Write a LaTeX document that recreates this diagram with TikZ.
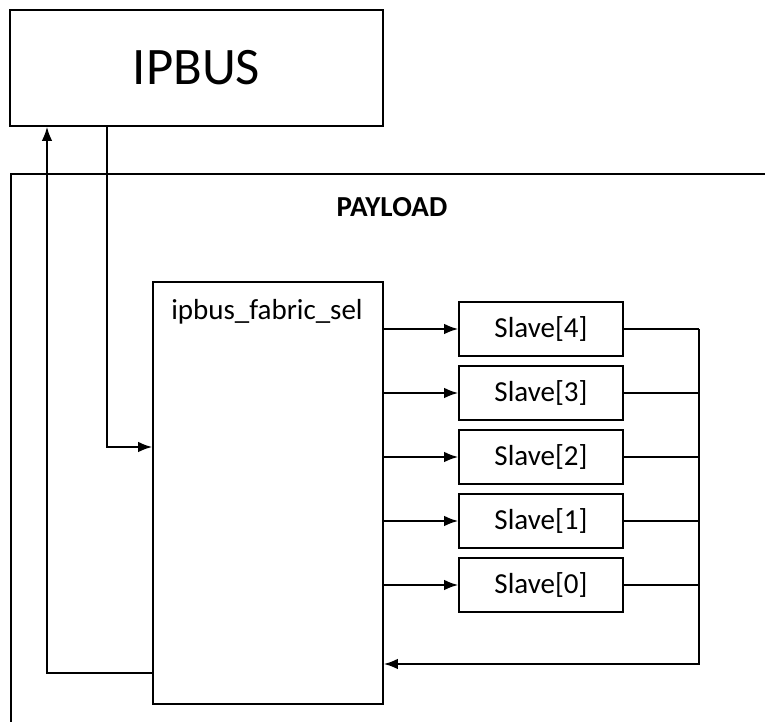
\documentclass[tikz,border=0pt]{standalone}
\usepackage{fontspec}
\setmainfont{Carlito}
\usetikzlibrary{positioning, arrows.meta}
\tikzstyle{sheet} = [x = .02cm, y = -.02cm]
\tikzstyle{blockStyle} = [draw, line width=.9pt, inner sep=0pt]
\tikzstyle{slaveStyle} = [blockStyle, minimum width=3.28cm, minimum height=1.08cm, font=\fontsize{16.5}{18}\selectfont]
\tikzstyle{wire} = [line width=1.1pt]
\tikzstyle{wireArrow} = [wire, -{Latex[length=2.8mm, width=2.1mm]}]
\newcommand{\labelFont}{\fontsize{16.5}{18}\selectfont}

\begin{document}
\begin{tikzpicture}[sheet]
  \useasboundingbox (0,0) rectangle (765,722);
  % payload frame
  \draw [wire] (11,730) -- (11,174) -- (775,174);
  \node [font=\bfseries\labelFont] (payload) at (392,207) {PAYLOAD};
  % blocks
  \node [blockStyle, minimum width=7.46cm, minimum height=2.32cm, font=\fontsize{30}{33}\selectfont] (ipbus) at (196.5,68) {IPBUS};
  \node [blockStyle, minimum width=4.6cm, minimum height=8.44cm] (fabric) at (268,493) {};
  \node [font=\labelFont] (fabricName) at (267,312) {ipbus\_fabric\_sel};
  \coordinate (busTop) at (699,329);
  \coordinate (busBottom) at (699,664);
  \foreach \idx [count=\row from 0] in {4,3,2,1,0} {
    \node [slaveStyle] (slave\idx) at (541,{329 + 64*\row}) {Slave[\idx]};
    \draw [wireArrow] (fabric.east |- slave\idx) -- (slave\idx.west);
    \draw [wire] (slave\idx.east) -- (busTop |- slave\idx);
  }
  \draw [wireArrow] (busTop) -- (busBottom) -- (fabric.east |- busBottom);
  % ipbus links
  \coordinate (downTurn) at (107,447);
  \coordinate (returnTurn) at (47,673);
  \draw [wireArrow] (ipbus.south -| downTurn) -- (downTurn) -- (fabric.west |- downTurn);
  \draw [wireArrow] (fabric.west |- returnTurn) -- (returnTurn) -- (ipbus.south -| returnTurn);
\end{tikzpicture}
\end{document}
